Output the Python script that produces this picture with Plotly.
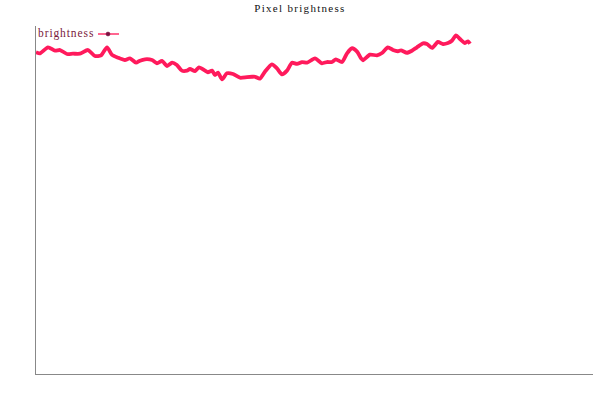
import plotly.graph_objects as go

# Pixel positions along the scanline and their brightness (0-255)
positions = [0, 1.8, 5.5, 8.7, 11.0, 14.2, 16.9, 20.1, 23.8, 27.0, 29.8, 32.5, 34.8, 37.5,
             40.7, 43.0, 45.8, 47.6, 49.9, 53.1, 55.4, 57.7, 60.0, 62.3, 64.5, 66.8, 69.1,
             70.5, 72.8, 74.6, 77.4, 78.7, 80.6, 81.9, 83.3, 85.2, 87.4, 90.2, 93.4, 96.6,
             98.9, 100.3, 102.5, 104.8, 108.0, 110.3, 112.6, 114.9, 117.2, 119.5, 121.8,
             124.1, 127.7, 130.9, 133.2, 135.5, 137.3, 140.1, 142.4, 144.7, 147.0, 148.8,
             149.7, 152.9, 156.1, 158.4, 161.1, 163.4, 165.7, 167.1, 169.8, 172.1, 174.4,
             177.2, 179.0, 181.3, 184.0, 186.3, 188.6, 190.4, 192.3, 194.1, 196.4, 197.8,
             198.7]
brightness = [235.7, 235.0, 239.4, 236.9, 237.4, 234.5, 234.7, 234.7, 237.4, 233.0, 233.5,
              239.4, 233.8, 231.8, 230.1, 231.3, 228.1, 229.6, 230.6, 230.1, 227.7, 229.4,
              225.7, 228.1, 226.4, 222.3, 222.3, 223.5, 222.0, 224.7, 222.3, 221.1, 222.3,
              219.1, 220.8, 215.9, 220.3, 219.8, 217.1, 217.6, 217.8, 217.8, 216.4, 221.5,
              226.9, 224.0, 219.6, 222.3, 228.1, 227.2, 228.6, 228.1, 231.3, 227.7, 228.6,
              228.6, 230.6, 228.6, 235.0, 238.7, 236.2, 231.3, 229.9, 234.0, 233.5, 235.2,
              239.4, 237.4, 236.5, 237.2, 235.4, 236.9, 239.4, 242.3, 241.8, 238.9, 243.3,
              241.8, 242.5, 244.2, 248.2, 245.5, 242.5, 243.8, 242.0]

series_name = "brightness"
title_text = "Pixel brightness"

LINE_COLOR = "#ff1a5c"
LEGEND_TEXT = "#7a1a3c"
LEGEND_DOT = "#7a1040"
SERIF = "Liberation Serif, Times New Roman, serif"

fig = go.Figure()
fig.add_trace(go.Scatter(
    x=positions, y=brightness, mode="lines", name=series_name,
    line=dict(color=LINE_COLOR, width=3.8, shape="spline", smoothing=0.6),
    showlegend=False, hoverinfo="x+y",
))

L, R, T, B = 36, 7, 26, 26
W, H = 600, 400
pw, ph = W - L - R, H - T - B

def px(x):
    return (x - L) / pw

def py(y):
    return (H - B - y) / ph

fig.update_layout(
    width=W, height=H,
    margin=dict(l=L, r=R, t=T, b=B),
    paper_bgcolor="white", plot_bgcolor="white",
    showlegend=False,
    title=dict(
        text=f'<span style="letter-spacing:1.3px">{title_text}</span>',
        x=0.5, xanchor="center", y=1 - 8 / H, yanchor="middle",
        font=dict(family=SERIF, size=11, color="#111111"),
    ),
    xaxis=dict(range=[0, 255], showgrid=False, zeroline=False, showline=True,
               linecolor="#888888", linewidth=1, showticklabels=False, ticks=""),
    yaxis=dict(range=[0, 255], showgrid=False, zeroline=False, showline=True,
               linecolor="#888888", linewidth=1, showticklabels=False,
               ticks="inside", tickvals=[0], ticklen=4, tickcolor="#333333", tickwidth=2),
    annotations=[dict(
        xref="paper", yref="paper", x=px(96), y=py(34), xanchor="right", yanchor="middle",
        text=f'<span style="letter-spacing:0.9px">{series_name}</span>', showarrow=False,
        font=dict(family=SERIF, size=11.5, color=LEGEND_TEXT),
    )],
    shapes=[
        dict(type="line", xref="paper", yref="paper", x0=px(98), x1=px(119),
             y0=py(34), y1=py(34), line=dict(color="#ff6690", width=2)),
        dict(type="circle", xref="paper", yref="paper", xsizemode="pixel", ysizemode="pixel",
             xanchor=px(108), yanchor=py(34), x0=-2, x1=2, y0=-2, y1=2,
             fillcolor=LEGEND_DOT, line=dict(color=LEGEND_DOT, width=0.5)),
    ],
)

fig.write_html("out.html", config={"displayModeBar": False},
               post_script="document.body.style.margin='0';")
